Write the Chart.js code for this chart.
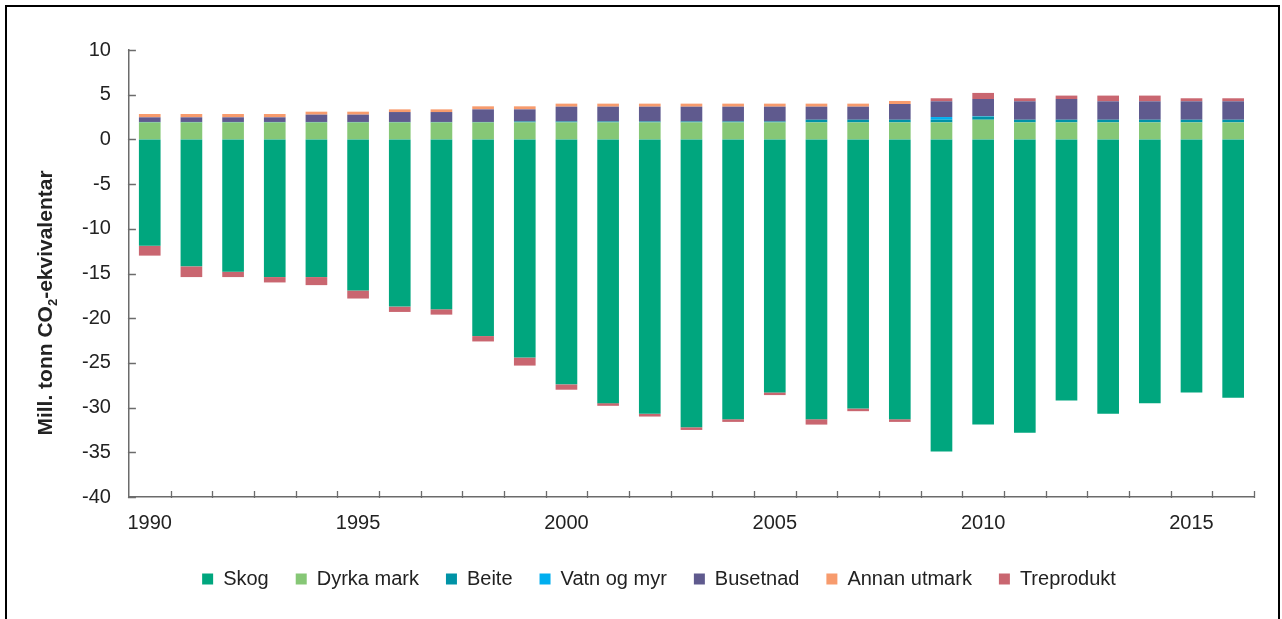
<!DOCTYPE html>
<html>
<head>
<meta charset="utf-8">
<script src="https://cdn.jsdelivr.net/npm/chart.js@4.4.1/dist/chart.umd.min.js"></script>
<style>
  html, body { margin: 0; padding: 0; background: #fff; }
  #frame { position: absolute; left: 5px; top: 5px; width: 1275px; height: 700px; border: 2px solid #000; box-sizing: border-box; }
  #wrap { position: absolute; left: 0; top: 0; width: 1282px; height: 619px; }
</style>
</head>
<body>
<div id="frame"></div>
<div id="wrap"><canvas id="LandUse"></canvas></div>
<script>
// years on the x axis
const years = ["1990","1991","1992","1993","1994","1995","1996","1997","1998","1999",
  "2000","2001","2002","2003","2004","2005","2006","2007","2008","2009",
  "2010","2011","2012","2013","2014","2015","2016"];

// values per category, mill. tonn CO2-ekv.
const skog = [-11.9, -14.2, -14.8, -15.4, -15.4, -16.9, -18.7, -19.0, -22.0, -24.4,
  -27.4, -29.5, -30.7, -32.2, -31.3, -28.3, -31.3, -30.1, -31.3, -34.9,
  -31.9, -32.8, -29.2, -30.7, -29.5, -28.3, -28.9];
const dyrkaMark = [1.9, 1.9, 1.9, 1.9, 1.9, 1.9, 1.9, 1.9, 1.9, 1.9,
  1.9, 1.9, 1.9, 1.9, 1.9, 1.9, 1.9, 1.9, 1.9, 1.9,
  2.2, 1.9, 1.9, 1.9, 1.9, 1.9, 1.9];
const beite = [0.05, 0.05, 0.05, 0.05, 0.05, 0.05, 0.05, 0.05, 0.05, 0.1,
  0.1, 0.1, 0.1, 0.1, 0.1, 0.1, 0.3, 0.3, 0.3, 0.3,
  0.35, 0.3, 0.3, 0.3, 0.3, 0.3, 0.3];
const vatnOgMyr = [0, 0, 0, 0, 0, 0, 0, 0, 0, 0,
  0, 0, 0, 0, 0, 0, 0, 0, 0, 0.3,
  0.05, 0, 0, 0, 0, 0, 0];
const busetnad = [0.52, 0.52, 0.52, 0.52, 0.82, 0.82, 1.11, 1.11, 1.41, 1.36,
  1.66, 1.66, 1.66, 1.66, 1.66, 1.66, 1.46, 1.46, 1.76, 1.76,
  1.92, 2.06, 2.32, 2.06, 2.06, 2.06, 2.06];
const annanUtmark = [0.37, 0.37, 0.37, 0.37, 0.33, 0.33, 0.3, 0.3, 0.34, 0.34,
  0.34, 0.34, 0.34, 0.34, 0.34, 0.34, 0.34, 0.34, 0.34, 0,
  0, 0, 0, 0, 0, 0, 0];
const treprodukt = [-1.1, -1.2, -0.6, -0.6, -0.9, -0.9, -0.6, -0.6, -0.6, -0.9,
  -0.6, -0.3, -0.3, -0.3, -0.3, -0.3, -0.6, -0.3, -0.3, 0.34,
  0.68, 0.34, 0.38, 0.64, 0.64, 0.34, 0.34];

const yTicks = [10, 5, 0, -5, -10, -15, -20, -25, -30, -35, -40];

const FONT = "'Liberation Sans', Arial, sans-serif";

// rotated y title with a real subscript, plus short inside tick marks
const axisExtras = {
  id: "axisExtras",
  afterDraw(chart) {
    const ctx = chart.ctx;
    const x = chart.scales.x, y = chart.scales.y;
    ctx.save();
    ctx.strokeStyle = "#6b6b6b";
    ctx.lineWidth = 1.3;
    ctx.beginPath();
    yTicks.forEach(v => {
      const py = Math.round(y.getPixelForValue(v)) + 0.5;
      ctx.moveTo(y.right - 1, py);
      ctx.lineTo(y.right + 7, py);
    });
    const n = years.length;
    const step = (x.right - x.left) / n;
    for (let i = 1; i <= n; i++) {
      const px = Math.round(x.left + i * step) + 0.5;
      ctx.moveTo(px, x.top + 1);
      ctx.lineTo(px, x.top - 6);
    }
    ctx.stroke();

    // title
    const big = "bold 21px " + FONT, small = "bold 13px " + FONT;
    const a = "Mill. tonn CO", b = "2", c = "-ekvivalentar";
    ctx.font = big; const wa = ctx.measureText(a).width, wc = ctx.measureText(c).width;
    ctx.font = small; const wb = ctx.measureText(b).width;
    const total = wa + wb + wc;
    ctx.translate(46, 303);
    ctx.rotate(-Math.PI / 2);
    ctx.fillStyle = "#222";
    ctx.textBaseline = "middle";
    ctx.textAlign = "left";
    let sx = -total / 2;
    ctx.font = big; ctx.fillText(a, sx, 0); sx += wa;
    ctx.font = small; ctx.fillText(b, sx, 7); sx += wb;
    ctx.font = big; ctx.fillText(c, sx, 0);
    ctx.restore();
  }
};

function ds(label, data, color) {
  return { label: label, data: data, backgroundColor: color, borderWidth: 0,
    barPercentage: 0.52, categoryPercentage: 1.0 };
}

new Chart("LandUse", {
  type: "bar",
  data: {
    labels: years,
    datasets: [
      ds("Skog", skog, "#00A67E"),
      ds("Dyrka mark", dyrkaMark, "#86C776"),
      ds("Beite", beite, "#0093A6"),
      ds("Vatn og myr", vatnOgMyr, "#00AEEF"),
      ds("Busetnad", busetnad, "#5F5A8E"),
      ds("Annan utmark", annanUtmark, "#F79B6D"),
      ds("Treprodukt", treprodukt, "#C96670")
    ]
  },
  plugins: [axisExtras],
  options: {
    responsive: true,
    maintainAspectRatio: false,
    animation: false,
    layout: { padding: { left: 64, right: 28, top: 50, bottom: 20 } },
    plugins: {
      legend: {
        display: true,
        position: "bottom",
        labels: {
          boxWidth: 11,
          boxHeight: 11,
          padding: 27,
          color: "#222",
          font: { family: FONT, size: 20 }
        }
      },
      tooltip: { enabled: false },
      title: { display: false }
    },
    scales: {
      x: {
        stacked: true,
        grid: { display: false, drawTicks: false },
        border: { display: true, color: "#6b6b6b", width: 1.5 },
        afterFit: function (scale) { scale.height -= 7; },
        ticks: {
          autoSkip: false,
          maxRotation: 0,
          padding: 14,
          color: "#222",
          font: { family: FONT, size: 20 },
          callback: function (v, i) { return (i % 5 === 0) ? years[i] : ""; }
        }
      },
      y: {
        stacked: true,
        min: -40,
        max: 10,
        grid: { display: false, drawTicks: false },
        border: { display: true, color: "#6b6b6b", width: 1.5 },
        ticks: {
          stepSize: 5,
          padding: 18,
          color: "#222",
          font: { family: FONT, size: 20 }
        }
      }
    }
  }
});
</script>
</body>
</html>
